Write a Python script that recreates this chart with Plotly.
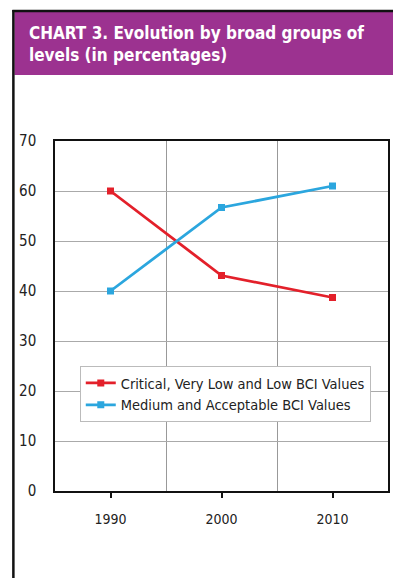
import plotly.graph_objects as go

years = ["1990", "2000", "2010"]
critical_low = [60.0, 43.1, 38.7]
medium_acceptable = [40.0, 56.7, 61.0]
y_ticks = [0, 10, 20, 30, 40, 50, 60, 70]

RED = "#E3202A"
BLUE = "#2BA6DE"
PURPLE = "#9C3290"
FONT = "Liberation Sans Narrow, Arial Narrow, DejaVu Sans Condensed, Liberation Sans, sans-serif"
TFONT = "DejaVu Sans Condensed, Liberation Sans Narrow, Liberation Sans, sans-serif"

# page body adds an 8px margin; figure is sized/shifted to compensate
W, H = 393, 570
L, R, T, B = 46, 11, 133, 87
PH = H - T - B
PW = W - L - R


def px(x):
    return (x - L) / PW


def py(y):
    return (H - B - y) / PH


xs = list(range(len(years)))

fig = go.Figure()
fig.add_trace(go.Scatter(
    x=xs, y=critical_low, name="Critical, Very Low and Low BCI Values",
    mode="lines+markers", line=dict(color=RED, width=2.8),
    marker=dict(symbol="square", size=7, color=RED)))
fig.add_trace(go.Scatter(
    x=xs, y=medium_acceptable, name="Medium and Acceptable BCI Values",
    mode="lines+markers", line=dict(color=BLUE, width=2.8),
    marker=dict(symbol="square", size=7, color=BLUE)))

fig.update_layout(
    width=W, height=H,
    margin=dict(l=L, r=R, t=T, b=B),
    paper_bgcolor="white", plot_bgcolor="white",
    font=dict(family=FONT, size=15, color="#222"),
    showlegend=True,
    legend=dict(x=px(71), y=py(358), xanchor="left", yanchor="top",
                bgcolor="white", bordercolor="#BBBBBB", borderwidth=1,
                font=dict(family=FONT, size=14.5, color="#222"),
                itemwidth=30, tracegroupgap=0),
    xaxis=dict(range=[-0.5, 2.5], tickvals=xs, ticktext=years,
               showgrid=False, zeroline=False,
               ticks="outside", ticklen=5, tickcolor="#111", tickwidth=1.5,
               showline=True, linecolor="#111", linewidth=1.5, mirror=True,
               tickfont=dict(family=FONT, size=14, color="#222"),
               ticklabelstandoff=9,
               minor=dict(tickvals=[0.5, 1.5], showgrid=True,
                          gridcolor="#999999", gridwidth=1, ticks="")),
    yaxis=dict(range=[0, 70], tickvals=y_ticks,
               showgrid=True, gridcolor="#AAAAAA", gridwidth=1,
               zeroline=False, ticks="",
               showline=True, linecolor="#111", linewidth=1.5, mirror=True,
               tickfont=dict(family=FONT, size=15, color="#222"),
               ticklabelstandoff=14),
    shapes=[
        dict(type="rect", xref="paper", yref="paper", layer="below",
             x0=px(5), x1=px(W + 2), y0=py(67), y1=py(4),
             fillcolor=PURPLE, line=dict(width=0)),
        dict(type="line", xref="paper", yref="paper",
             x0=px(3), x1=px(W + 2), y0=py(3), y1=py(3),
             line=dict(color="#111", width=2.5)),
        dict(type="line", xref="paper", yref="paper",
             x0=px(4), x1=px(4), y0=py(H + 2), y1=py(2),
             line=dict(color="#111", width=2.5)),
    ],
    annotations=[
        dict(text="<b>CHART 3. Evolution by broad groups of<br>levels (in percentages)</b>",
             xref="paper", yref="paper", x=px(18), y=py(13),
             xanchor="left", yanchor="top", align="left", showarrow=False,
             font=dict(family=TFONT, size=17, color="white")),
    ],
)

fig.write_html("out.html")
